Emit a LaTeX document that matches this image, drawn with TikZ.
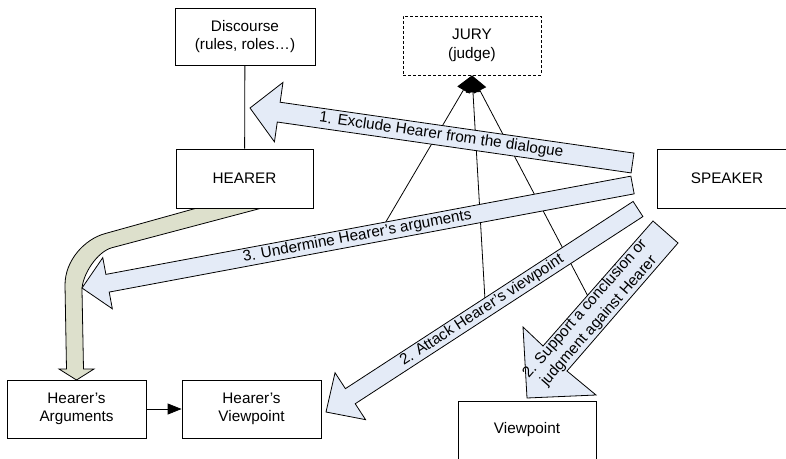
\documentclass[tikz,border=0pt]{standalone}
\usepackage{fontspec}
\setmainfont{Liberation Sans}
\usetikzlibrary{calc,arrows.meta}
\definecolor{arrblue}{RGB}{228,235,247}
\definecolor{arrolive}{RGB}{221,224,204}
% block arrow: #1 tail, #2 tip, #3 half shaft width, #4 half head width, #5 head length
\newcommand\barrow[5]{%
  \coordinate (#1-n) at ($(#2)!#5!(#1)$);
  \draw[blockarr] ($(#1)!#3!90:(#2)$) -- ($(#1-n)!#3!90:(#2)$) -- ($(#1-n)!#4!90:(#2)$)
    -- (#2) -- ($(#1-n)!#4!-90:(#2)$) -- ($(#1-n)!#3!-90:(#2)$) -- ($(#1)!#3!-90:(#2)$) -- cycle;
}
\begin{document}
\begin{tikzpicture}[x=1pt,y=-1pt, line width=0.8pt,
  font=\fontsize{15.3}{18.4}\selectfont,
  box/.style={draw, fill=white, align=center, inner sep=0pt},
  blockarr/.style={draw, fill=arrblue, line join=miter},
  jl/.style={-{Triangle[length=17pt,width=14pt]}},
]
\useasboundingbox (0,0) rectangle (786,458);

% olive bent arrow from HEARER to Hearer's Arguments
\draw[fill=arrolive] (197,208) -- (105,233.6) .. controls (85,239) and (65,260) .. (65,285)
  -- (66.5,369) -- (59,369) -- (76.5,380) -- (94,369) -- (83.5,369) -- (82,290)
  .. controls (82,275) and (97,251.7) .. (112,247.7) -- (262,208) -- cycle;

% boxes
\node[box, minimum width=140pt, minimum height=57pt] (disc) at (245,36.5) {Discourse\\(rules, roles…)};
\node[box, dash pattern=on 3pt off 2pt, minimum width=138pt, minimum height=59pt] (jury) at (472,45.5) {JURY\\(judge)};
\node[box, minimum width=137pt, minimum height=59pt] (hearer) at (244.5,178.5) {HEARER};
\node[box, minimum width=140pt, minimum height=59pt] (speaker) at (727,178.5) {SPEAKER};
\node[box, minimum width=139pt, minimum height=58pt] (hargs) at (76.5,409) {Hearer’s\\Arguments};
\node[box, minimum width=139pt, minimum height=58pt] (hview) at (251.5,409) {Hearer’s\\Viewpoint};
\node[box, minimum width=138pt, minimum height=58pt] (view) at (527,430) {Viewpoint};

\draw (disc) -- (hearer);
\draw[-{Triangle[length=14pt,width=11pt]}] (hargs) -- (hview);

% lines to the jury
\coordinate (j1) at (384,225);
\coordinate (j2) at (485,300);
\coordinate (j3) at (591,302);
\draw[jl] (j1) -- (jury.south);
\draw[jl] (j2) -- (jury.south);
\draw[jl] (j3) -- (jury.south);

% block arrows
\coordinate (a1t) at (632.5,163); \coordinate (a1p) at (250,108);
\barrow{a1t}{a1p}{10pt}{30pt}{29pt}
\coordinate (a3t) at (632.5,185); \coordinate (a3p) at (82,288);
\barrow{a3t}{a3p}{9pt}{26pt}{26pt}
\coordinate (a2t) at (638,209); \coordinate (a2p) at (326,412);
\barrow{a2t}{a2p}{9pt}{28pt}{29pt}
\draw[blockarr] (653,221) -- (543,346) -- (523,327) -- (527,398) -- (596,395) -- (567,371) -- (678,243) -- cycle;

% labels
\path (a1p) -- (a1t) node[midway, sloped] (l1) {1. Exclude Hearer from the dialogue};
\path (a3p) -- (a3t) node[midway, sloped] (l3) {3. Undermine Hearer’s arguments};
\path (a2p) -- (a2t) node[midway, sloped] (l2) {2. Attack Hearer’s viewpoint};
\node[rotate=48.7, align=center, inner sep=0pt] (l4) at (592,315)
  {\fontsize{15.3}{17}\selectfont 2. Support a conclusion or\\judgment against Hearer};
\end{tikzpicture}
\end{document}
